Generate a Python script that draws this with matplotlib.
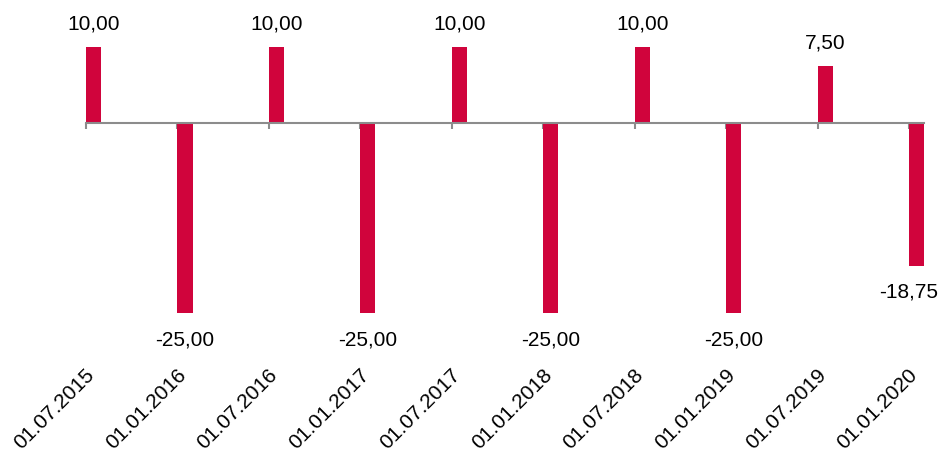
import matplotlib
matplotlib.use("Agg")
import matplotlib.pyplot as plt
import matplotlib.transforms as mtransforms

# Coupon dates and cash flows
dates = ["01.07.2015", "01.01.2016", "01.07.2016", "01.01.2017", "01.07.2017",
         "01.01.2018", "01.07.2018", "01.01.2019", "01.07.2019", "01.01.2020"]
values = [10.00, -25.00, 10.00, -25.00, 10.00, -25.00, 10.00, -25.00, 7.50, -18.75]

BAR_COLOR = "#D0043C"
AXIS_COLOR = "#8C8C8C"
FONT = "Liberation Sans"

W, H = 941, 451
fig = plt.figure(figsize=(W / 100, H / 100), dpi=100)

bar_w = 0.165
x0_px, x1_px = 86, 86 + 9 * 91.44 + bar_w * 91.44
y_top_px, y_bot_px = 47, 313
ax = fig.add_axes([x0_px / W, 1 - y_bot_px / H, (x1_px - x0_px) / W, (y_bot_px - y_top_px) / H])

xs = list(range(len(values)))
ax.bar(xs, values, width=bar_w, align="edge", color=BAR_COLOR, clip_on=False, zorder=2)
ax.set_xlim(0, 9 + bar_w)
ax.set_ylim(-25, 10)

# Zero line acts as the category axis
for s in ["top", "right", "left"]:
    ax.spines[s].set_visible(False)
ax.spines["bottom"].set_position(("data", 0))
ax.spines["bottom"].set_color(AXIS_COLOR)
ax.spines["bottom"].set_linewidth(1.5)
ax.spines["bottom"].set_zorder(3)
ax.set_yticks([])
ax.set_xticks(xs)
ax.tick_params(axis="x", direction="out", length=4, width=1.5, color=AXIS_COLOR,
               labelbottom=False)

# Value labels
for i, v in enumerate(values):
    txt = f"{v:.2f}".replace(".", ",")
    dy = 23 if v >= 0 else -26.5
    dx = 0
    if i == len(values) - 1:
        dx = -8
    ax.annotate(txt, xy=(i + bar_w / 2, v), xytext=(dx * 0.72, dy * 0.72),
                textcoords="offset points", ha="center", va="center",
                fontsize=15, family=FONT, color="#000000", annotation_clip=False)

# Rotated date labels along the bottom
trans = mtransforms.blended_transform_factory(ax.transData, fig.transFigure)
for i, d in enumerate(dates):
    ax.text(i - 0.01, 1 - 365 / H, d, transform=trans, rotation=45,
            rotation_mode="anchor", ha="right", va="top",
            fontsize=15, family=FONT, color="#000000")

fig.savefig("out.png", dpi=100)
